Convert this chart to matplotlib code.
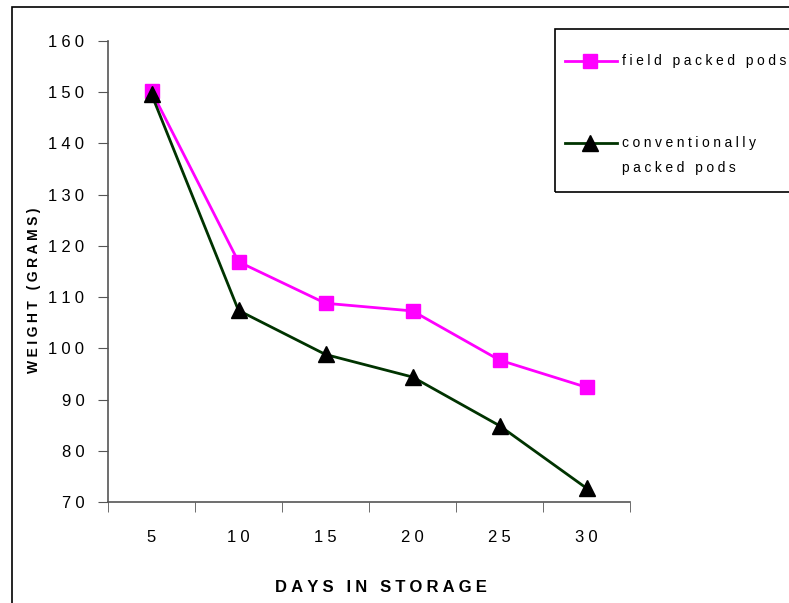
import matplotlib.pyplot as plt
from matplotlib.patches import Rectangle
from matplotlib.lines import Line2D

plt.rcParams['font.family'] = ['Liberation Sans', 'DejaVu Sans']

days = ['5', '10', '15', '20', '25', '30']
field_packed = [150.2, 116.9, 108.8, 107.3, 97.7, 92.4]
conventional = [149.6, 107.4, 98.8, 94.4, 84.9, 72.7]
y_ticks = [70, 80, 90, 100, 110, 120, 130, 140, 150, 160]

PINK = '#FF00FF'
GREEN = '#003300'
SP = '\u2005'  # four-per-em space


def spaced(s):
    # letter spacing like the original office chart
    return SP.join(s)


fig = plt.figure(figsize=(7.89, 6.03), dpi=100)
W, H = 789, 603

# outer frame of the chart area
fig.patches.append(Rectangle((12 / W, -0.1), 1.2, 1.1 - 7 / H, transform=fig.transFigure,
                             fill=False, edgecolor='black', linewidth=1.2))

ax = fig.add_axes([108 / W, 1 - 502 / H, 522 / W, 461 / H])
x = range(len(days))
ax.plot(x, field_packed, color=PINK, linewidth=2, marker='s', markersize=10,
        markerfacecolor=PINK, markeredgecolor=PINK)
ax.plot(x, conventional, color=GREEN, linewidth=2, marker='^', markersize=12,
        markerfacecolor='black', markeredgecolor='black')

ax.set_xlim(-0.5, len(days) - 0.5)
ax.set_ylim(70, 160)
ax.set_yticks(y_ticks)
ax.set_yticklabels([spaced(str(v)) for v in y_ticks], fontsize=12)
ax.set_xticks(list(x))
ax.set_xticklabels([spaced(d) for d in days], fontsize=12)
ax.set_xticks([i - 0.5 for i in range(len(days) + 1)], minor=True)
ax.tick_params(axis='x', which='major', length=0, pad=20)
ax.tick_params(axis='x', which='minor', length=7, color='#555555', direction='out')
ax.tick_params(axis='y', length=7, color='#555555', pad=10)

for side in ['top', 'right']:
    ax.spines[side].set_visible(False)
for side in ['left', 'bottom']:
    ax.spines[side].set_color('#555555')
    ax.spines[side].set_linewidth(1.2)

fig.text(34 / W, 1 - 290 / H, spaced('WEIGHT (GRAMS)'), rotation=90, fontsize=10,
         fontweight='bold', ha='center', va='center')
fig.text(381 / W, 1 - 587 / H, spaced('DAYS IN STORAGE'), fontsize=12,
         fontweight='bold', ha='center', va='center')

# legend box, drawn by hand since its text runs over the edge
fig.patches.append(Rectangle((555 / W, 1 - 192 / H), 0.5, 163 / H, transform=fig.transFigure,
                             fill=False, edgecolor='black', linewidth=1.2))
fig.lines.append(Line2D([565 / W, 617 / W], [1 - 61 / H] * 2, transform=fig.transFigure,
                        color=PINK, linewidth=2))
fig.lines.append(Line2D([590 / W], [1 - 61 / H], transform=fig.transFigure, marker='s',
                        markersize=10, color=PINK))
fig.lines.append(Line2D([565 / W, 617 / W], [1 - 143 / H] * 2, transform=fig.transFigure,
                        color=GREEN, linewidth=2))
fig.lines.append(Line2D([590 / W], [1 - 143 / H], transform=fig.transFigure, marker='^',
                        markersize=12, color='black'))
fig.text(622 / W, 1 - 61 / H, spaced('field packed pods'), fontsize=10, va='center')
fig.text(622 / W, 1 - 143 / H, spaced('conventionally'), fontsize=10, va='center')
fig.text(622 / W, 1 - 168 / H, spaced('packed pods'), fontsize=10, va='center')

fig.savefig('out.png', dpi=100)
